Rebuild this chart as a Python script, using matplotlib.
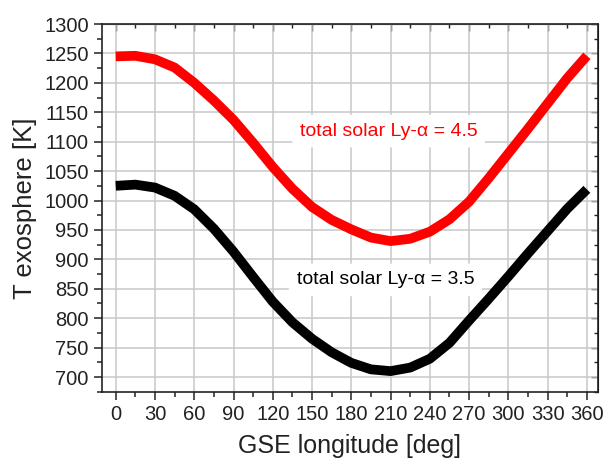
import numpy as np
import matplotlib
matplotlib.use('Agg')
from matplotlib import pyplot as plt
from matplotlib.ticker import MultipleLocator

plt.rcParams['font.family'] = ['Liberation Sans', 'DejaVu Sans']

# GSE longitude [deg]
lon = [0, 15, 30, 45, 60, 75, 90, 105, 120, 135, 150, 165, 180,
       195, 210, 225, 240, 255, 270, 285, 300, 315, 330, 345, 360]

# exospheric temperature for Ly-alpha = 4.5 and 3.5
t_high = [1245, 1246, 1240, 1226, 1200, 1170, 1137, 1098, 1057, 1020, 989, 967, 951,
          937, 931, 935, 947, 968, 998, 1038, 1080, 1122, 1165, 1208, 1246]
t_low = [1025, 1027, 1022, 1008, 985, 952, 913, 870, 828, 793, 765, 742, 724,
         713, 710, 716, 731, 758, 796, 833, 871, 910, 948, 986, 1019]

fig = plt.figure(figsize=(6.06, 4.62), dpi=100)
ax = fig.add_axes([0.1683, 0.1515, 0.8185, 0.7965])

ax.plot(lon, t_high, color='#ff0000', lw=7, solid_capstyle='butt',
        solid_joinstyle='round', zorder=3)
ax.plot(lon, t_low, color='black', lw=7, solid_capstyle='butt',
        solid_joinstyle='round', zorder=3)

ax.set_xlim(-10.5, 368.5)
ax.set_ylim(674.5, 1300)
ax.xaxis.set_major_locator(MultipleLocator(30))
ax.xaxis.set_minor_locator(MultipleLocator(15))
ax.yaxis.set_major_locator(MultipleLocator(50))
ax.yaxis.set_minor_locator(MultipleLocator(25))
ax.grid(True, which='major', color='#c8c8c8', lw=1.1, zorder=0)

ax.tick_params(which='both', direction='out', labelsize=14.5, width=1.1, colors='#222222',
               labelcolor='#222222')
ax.tick_params(which='major', length=6)
ax.tick_params(which='minor', length=3.5)
for s in ax.spines.values():
    s.set_linewidth(1.2)
    s.set_color('#222222')

# inward ticks on the opposite spines
sx = ax.secondary_xaxis('top')
sx.xaxis.set_major_locator(MultipleLocator(30))
sx.xaxis.set_minor_locator(MultipleLocator(15))
sx.tick_params(which='both', direction='in', labeltop=False, width=1.0, colors='#222222')
sx.tick_params(which='major', length=5)
sx.tick_params(which='minor', length=3)
sy = ax.secondary_yaxis('right')
sy.yaxis.set_major_locator(MultipleLocator(50))
sy.yaxis.set_minor_locator(MultipleLocator(25))
sy.tick_params(which='both', direction='in', labelright=False, width=1.0, colors='#222222')
sy.tick_params(which='major', length=5)
sy.tick_params(which='minor', length=3)

ax.set_xlabel('GSE longitude [deg]', fontsize=18, color='#222222', labelpad=7)
ax.set_ylabel('T exosphere [K]', fontsize=18.5, color='#222222', labelpad=5)

box = dict(boxstyle='round,pad=0.4', fc='white', ec='none')
ax.text(208.5, 1118, 'total solar Ly-α = 4.5', color='#ff0000', fontsize=14,
        ha='center', va='center', bbox=box, zorder=2)
ax.text(206, 865, 'total solar Ly-α = 3.5', color='black', fontsize=14,
        ha='center', va='center', bbox=box, zorder=2)

fig.savefig('out.png', dpi=100)
